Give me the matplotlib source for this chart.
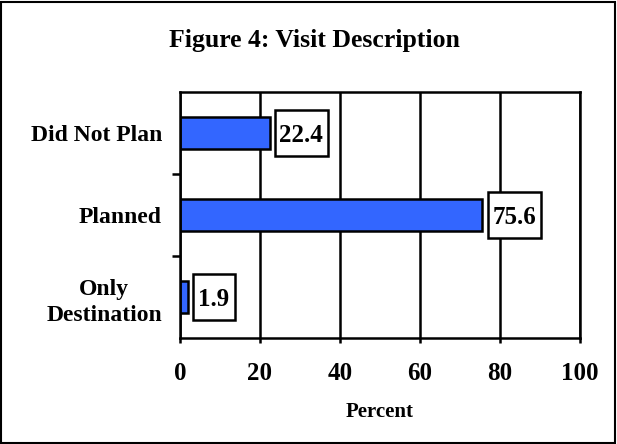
import matplotlib.pyplot as plt
from matplotlib.patches import Rectangle

## Data
categories = ['Only\nDestination', 'Planned', 'Did Not Plan']
values = [1.9, 75.6, 22.4]
xticks = [0, 20, 40, 60, 80, 100]

plt.rcParams['font.family'] = ['Liberation Serif', 'DejaVu Serif']
plt.rcParams['font.weight'] = 'bold'

fig = plt.figure(figsize=(6.17, 4.44), dpi=100)
ax = fig.add_axes([180/617, 1 - 338/444, 400/617, 246/444])

## Outer frame round the whole figure
fig.patches.append(Rectangle((0.002, 0.002), 0.995, 0.994, transform=fig.transFigure,
                             fill=False, edgecolor='black', linewidth=1.5))

ypos = range(len(categories))
ax.barh(ypos, values, height=0.4, color='#3366FF', edgecolor='black',
        linewidth=1.8, zorder=2)

## Value labels in white boxes to the right of each bar
for y, v in zip(ypos, values):
    label = f'{v}'
    w = 2.25 + 2.75 * len(label)
    x0 = v + 1.3
    ax.add_patch(Rectangle((x0, y - 0.28), w, 0.56, facecolor='white',
                           edgecolor='black', linewidth=1.8, zorder=3))
    ax.text(x0 + w / 2, y, label, ha='center', va='center_baseline', fontsize=18,
            fontweight='bold', zorder=4)

ax.set_xlim(0, 100)
ax.set_ylim(-0.5, 2.5)
ax.set_xticks(xticks)
ax.set_xticklabels([str(t) for t in xticks], fontsize=18, fontweight='bold')
ax.set_yticks([0, 1, 2])
ax.set_yticklabels(categories, fontsize=17, fontweight='bold', ha='right',
                   multialignment='center', linespacing=1.35)
ax.set_yticks([0.5, 1.5], minor=True)
ax.tick_params(axis='y', which='major', length=0, pad=13)
ax.tick_params(axis='y', which='minor', length=6, width=1.8, direction='out')
ax.tick_params(axis='x', length=3.6, width=1.8, direction='out', pad=14)

ax.xaxis.grid(True, color='black', linewidth=1.8, zorder=1)
ax.set_axisbelow(True)
for s in ax.spines.values():
    s.set_linewidth(1.8)

ax.set_xlabel('Percent', fontsize=15, fontweight='bold', labelpad=12)
fig.text(314/617, 1 - 40/444, 'Figure 4: Visit Description', ha='center',
         va='center', fontsize=18.5, fontweight='bold')

plt.savefig('out.png', dpi=100)
